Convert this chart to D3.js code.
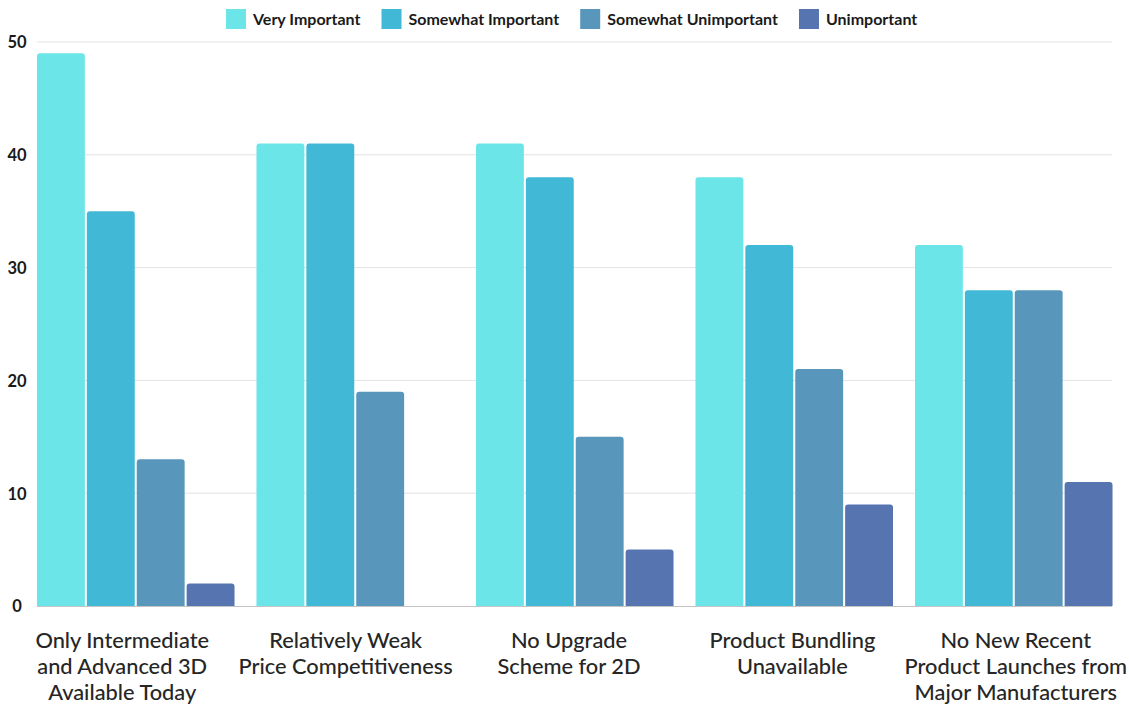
<!DOCTYPE html>
<html>
<head>
<meta charset="utf-8">
<script src="https://cdn.jsdelivr.net/npm/d3@7"></script>
<style>
  html, body { margin: 0; padding: 0; background: #fff; }
  svg { display: block; font-family: Lato, "Noto Sans", sans-serif; }
</style>
</head>
<body>
<svg id="chart" width="1129" height="704"></svg>
<script>
// Survey categories (each label line kept separately)
const categories = [
  ["Only Intermediate", "and Advanced 3D", "Available Today"],
  ["Relatively Weak", "Price Competitiveness"],
  ["No Upgrade", "Scheme for 2D"],
  ["Product Bundling", "Unavailable"],
  ["No New Recent", "Product Launches from", "Major Manufacturers"]
];
const seriesNames = ["Very Important", "Somewhat Important", "Somewhat Unimportant", "Unimportant"];
const veryImportant       = [49, 41, 41, 38, 32];
const somewhatImportant   = [35, 41, 38, 32, 28];
const somewhatUnimportant = [13, 19, 15, 21, 28];
const unimportant         = [2, 0, 5, 9, 11];
const yTicks = [0, 10, 20, 30, 40, 50];
const colors = ["#6ce5e8", "#41b8d5", "#5897bb", "#5674b0"];

const series = [veryImportant, somewhatImportant, somewhatUnimportant, unimportant];
const keys = categories.map(c => c.join(" "));

const svg = d3.select("#chart");
const plotLeft = 37, plotRight = 1112, plotTop = 42, plotBottom = 606;

const x0 = d3.scaleBand().domain(keys).range([26, 1123.5]).paddingInner(0.1).paddingOuter(0.05);
const x1 = d3.scaleBand().domain(seriesNames).range([0, x0.bandwidth()]).paddingInner(0.04);
const xLabel = d3.scaleBand().domain(keys).range([10.5, 1127.5]);
const y = d3.scaleLinear().domain([0, 50]).range([plotBottom, plotTop]);

// Gridlines
svg.append("g").selectAll("line").data(yTicks.filter(t => t > 0)).join("line")
  .attr("x1", plotLeft).attr("x2", plotRight)
  .attr("y1", d => y(d)).attr("y2", d => y(d))
  .attr("stroke", "#e3e3e3").attr("stroke-width", 1);

// Y-axis labels
const yAxis = svg.append("g").attr("transform", `translate(17,0)`)
  .call(d3.axisLeft(y).tickValues(yTicks).tickSize(0).tickPadding(0));
yAxis.select(".domain").remove();
yAxis.selectAll("text")
  .attr("text-anchor", "middle").attr("x", 0).attr("dy", "0.36em")
  .attr("font-size", 16.5).attr("font-weight", 700).attr("fill", "#1a1a1a")
  .attr("font-family", "Lato, sans-serif");

// Bars with rounded top corners
function topRounded(x, yTop, w, h, r) {
  if (h <= 0) return "";
  r = Math.min(r, h, w / 2);
  return `M${x},${yTop + h}V${yTop + r}Q${x},${yTop} ${x + r},${yTop}` +
         `H${x + w - r}Q${x + w},${yTop} ${x + w},${yTop + r}V${yTop + h}Z`;
}

const groups = svg.append("g").selectAll("g").data(keys).join("g")
  .attr("transform", d => `translate(${x0(d)},0)`);
groups.selectAll("path")
  .data((k, i) => series.map((s, j) => ({ name: seriesNames[j], value: s[i], color: colors[j] })))
  .join("path")
  .attr("d", d => topRounded(x1(d.name), y(d.value), x1.bandwidth(), y(0) - y(d.value), 3))
  .attr("fill", d => d.color);

// Baseline
svg.append("line")
  .attr("x1", plotLeft).attr("x2", plotRight)
  .attr("y1", y(0) + 0.5).attr("y2", y(0) + 0.5)
  .attr("stroke", "#c4c4c4").attr("stroke-width", 1);

// Category labels
const xAxis = svg.append("g").attr("transform", `translate(0,${plotBottom})`)
  .call(d3.axisBottom(xLabel).tickSize(0).tickFormat(""));
xAxis.select(".domain").remove();
xAxis.selectAll(".tick").each(function(d, i) {
  const t = d3.select(this).append("text")
    .attr("text-anchor", "middle").attr("font-size", 21.8).attr("fill", "#262626")
    .attr("font-family", "Lato, sans-serif").attr("font-weight", 500);
  categories[i].forEach((line, k) => {
    t.append("tspan").attr("x", 0).attr("y", 42 + k * 26).text(line);
  });
});

// Legend
const legend = svg.append("g");
let lx = 226;
seriesNames.forEach((name, i) => {
  legend.append("rect").attr("x", lx).attr("y", 9).attr("width", 20).attr("height", 20)
    .attr("fill", colors[i]);
  const t = legend.append("text").attr("x", lx + 27).attr("y", 25)
    .attr("font-size", 16).attr("font-weight", 700).attr("fill", "#1a1a1a")
    .attr("font-family", "Lato, sans-serif").text(name);
  lx += 27 + t.node().getComputedTextLength() + 21;
});
</script>
</body>
</html>
